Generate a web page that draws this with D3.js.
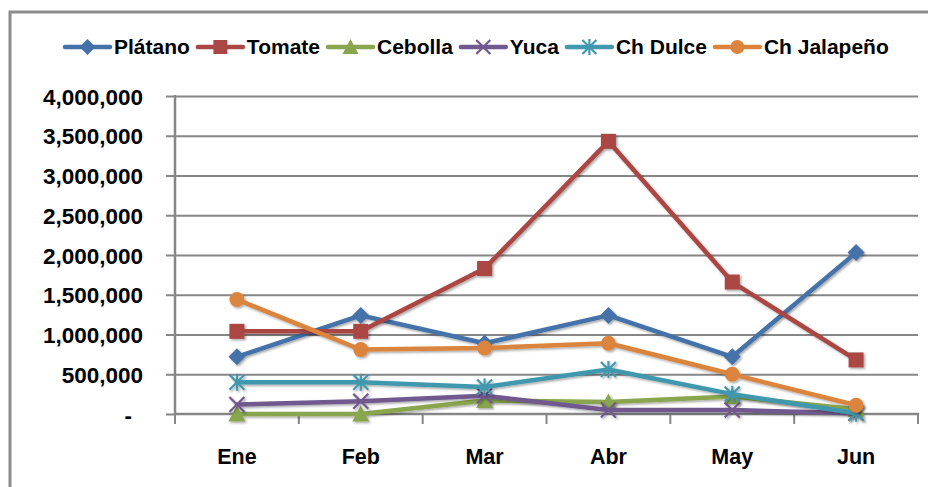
<!DOCTYPE html>
<html>
<head>
<meta charset="utf-8">
<script src="https://cdn.jsdelivr.net/npm/d3@7"></script>
<style>
  html, body { margin: 0; padding: 0; background: #fff; }
  svg { display: block; }
  text { font-family: "Liberation Sans", Arial, sans-serif; font-weight: bold; fill: #000; }
</style>
</head>
<body>
<svg id="chart" width="928" height="487"></svg>
<script>
// ---- data ----
const months = ["Ene", "Feb", "Mar", "Abr", "May", "Jun"];
const seriesNames = ["Plátano", "Tomate", "Cebolla", "Yuca", "Ch Dulce", "Ch Jalapeño"];
const platano    = [720000, 1240000, 890000, 1240000, 720000, 2030000];
const tomate     = [1040000, 1040000, 1830000, 3430000, 1660000, 680000];
const cebolla    = [0, 0, 170000, 150000, 220000, 60000];
const yuca       = [120000, 160000, 230000, 50000, 50000, 10000];
const chDulce    = [400000, 400000, 340000, 560000, 250000, 10000];
const chJalapeno = [1440000, 810000, 830000, 890000, 500000, 110000];
const yTicks = [0, 500000, 1000000, 1500000, 2000000, 2500000, 3000000, 3500000, 4000000];
const colors = ["#4472A8", "#AA4643", "#89A54E", "#71588F", "#4198AF", "#DB843D"];
const markers = ["diamond", "square", "triangle", "x", "star", "circle"];

const allSeries = [platano, tomate, cebolla, yuca, chDulce, chJalapeno].map((v, i) => ({
  name: seriesNames[i], values: v, color: colors[i], marker: markers[i]
}));

// ---- layout ----
const svg = d3.select("#chart");
const pLeft = 175, pRight = 918, pTop = 96, pBottom = 414;

const defs = svg.append("defs");
const f = defs.append("filter").attr("id", "shadow").attr("x", "-20%").attr("y", "-20%").attr("width", "140%").attr("height", "140%");
f.append("feDropShadow").attr("dx", 1.5).attr("dy", 1.5).attr("stdDeviation", 1).attr("flood-color", "#000").attr("flood-opacity", 0.35);

// border
svg.append("rect").attr("x", 10).attr("y", 12).attr("width", 1000).attr("height", 600)
  .attr("fill", "none").attr("stroke", "#8c8c8c").attr("stroke-width", 3);

const x = d3.scaleBand().domain(months).range([pLeft, pRight]).padding(0);
const y = d3.scaleLinear().domain([0, 4000000]).range([pBottom, pTop]);
const cx = m => x(m) + x.bandwidth() / 2;

// gridlines
svg.append("g").attr("transform", `translate(${pLeft},0)`)
  .call(d3.axisLeft(y).tickValues(yTicks.slice(1)).tickSize(-(pRight - pLeft)).tickFormat(""))
  .call(g => g.select(".domain").remove())
  .call(g => g.selectAll("line").attr("stroke", "#868686").attr("stroke-width", 2));

// y axis
const fmt = d3.format(",");
svg.append("g").attr("transform", `translate(${pLeft},0)`)
  .call(d3.axisLeft(y).tickValues(yTicks).tickSize(9).tickPadding(0)
    .tickFormat(d => d === 0 ? "-" : fmt(d)))
  .call(g => g.select(".domain").attr("stroke", "#868686").attr("stroke-width", 2.5)
    .attr("d", `M0,${pTop - 1}V${pBottom}`))
  .call(g => g.selectAll("line").attr("stroke", "#868686").attr("stroke-width", 2))
  .call(g => g.selectAll("text").attr("font-size", 22.5)
    .attr("font-family", "'Liberation Sans', Arial, sans-serif").attr("font-weight", "bold")
    .attr("fill", "#000").attr("x", d => d === 0 ? -43 : -32).attr("dy", "0.36em"));

// x axis
const xg = svg.append("g");
xg.append("line").attr("x1", pLeft).attr("x2", pRight + 1).attr("y1", pBottom).attr("y2", pBottom)
  .attr("stroke", "#868686").attr("stroke-width", 2.5);
const bounds = months.map(m => x(m)).concat([x(months[months.length - 1]) + x.bandwidth()]);
xg.selectAll("line.tick").data(bounds).enter().append("line").attr("class", "tick")
  .attr("x1", d => d).attr("x2", d => d).attr("y1", pBottom).attr("y2", pBottom + 10)
  .attr("stroke", "#868686").attr("stroke-width", 2);
xg.selectAll("text").data(months).enter().append("text")
  .attr("x", d => cx(d)).attr("y", 464).attr("text-anchor", "middle").attr("font-size", 21.5)
  .text(d => d);

// marker drawing
function drawMarker(g, type, color, s) {
  const h = s / 2;
  if (type === "diamond") {
    g.append("path").attr("d", `M0,${-h - 1}L${h + 1},0L0,${h + 1}L${-h - 1},0Z`).attr("fill", color);
  } else if (type === "square") {
    g.append("rect").attr("x", -h).attr("y", -h).attr("width", s).attr("height", s).attr("fill", color);
  } else if (type === "triangle") {
    g.append("path").attr("d", `M0,${-h - 1}L${h + 1},${h}L${-h - 1},${h}Z`).attr("fill", color);
  } else if (type === "circle") {
    g.append("circle").attr("r", h).attr("fill", color);
  } else if (type === "x") {
    g.append("path").attr("d", `M${-h},${-h}L${h},${h}M${-h},${h}L${h},${-h}`)
      .attr("stroke", color).attr("stroke-width", 2.2).attr("fill", "none");
  } else if (type === "star") {
    g.append("path").attr("d", `M${-h},${-h}L${h},${h}M${-h},${h}L${h},${-h}M0,${-h - 1}L0,${h + 1}`)
      .attr("stroke", color).attr("stroke-width", 2.2).attr("fill", "none");
  }
}

// lines
const line = d3.line().x((d, i) => cx(months[i])).y(d => y(d));
const plot = svg.append("g");
allSeries.forEach(s => {
  const g = plot.append("g").attr("filter", "url(#shadow)");
  g.append("path").datum(s.values).attr("d", line).attr("fill", "none")
    .attr("stroke", s.color).attr("stroke-width", 4.5).attr("stroke-linejoin", "round").attr("stroke-linecap", "round");
  s.values.forEach((v, i) => {
    const mg = g.append("g").attr("transform", `translate(${cx(months[i])},${y(v)})`);
    drawMarker(mg, s.marker, s.color, 15);
  });
});

// legend
const legend = svg.append("g");
let lx = 65;
const ly = 47;
allSeries.forEach(s => {
  const g = legend.append("g");
  g.append("line").attr("x1", lx).attr("x2", lx + 45).attr("y1", ly).attr("y2", ly)
    .attr("stroke", s.color).attr("stroke-width", 4.5).attr("stroke-linecap", "round");
  const mg = g.append("g").attr("transform", `translate(${lx + 22.5},${ly})`);
  drawMarker(mg, s.marker, s.color, 14);
  const t = g.append("text").attr("x", lx + 49).attr("y", ly + 7).attr("font-size", 21).text(s.name);
  const w = t.node().getComputedTextLength();
  lx = lx + 49 + w + 8;
});
</script>
</body>
</html>
